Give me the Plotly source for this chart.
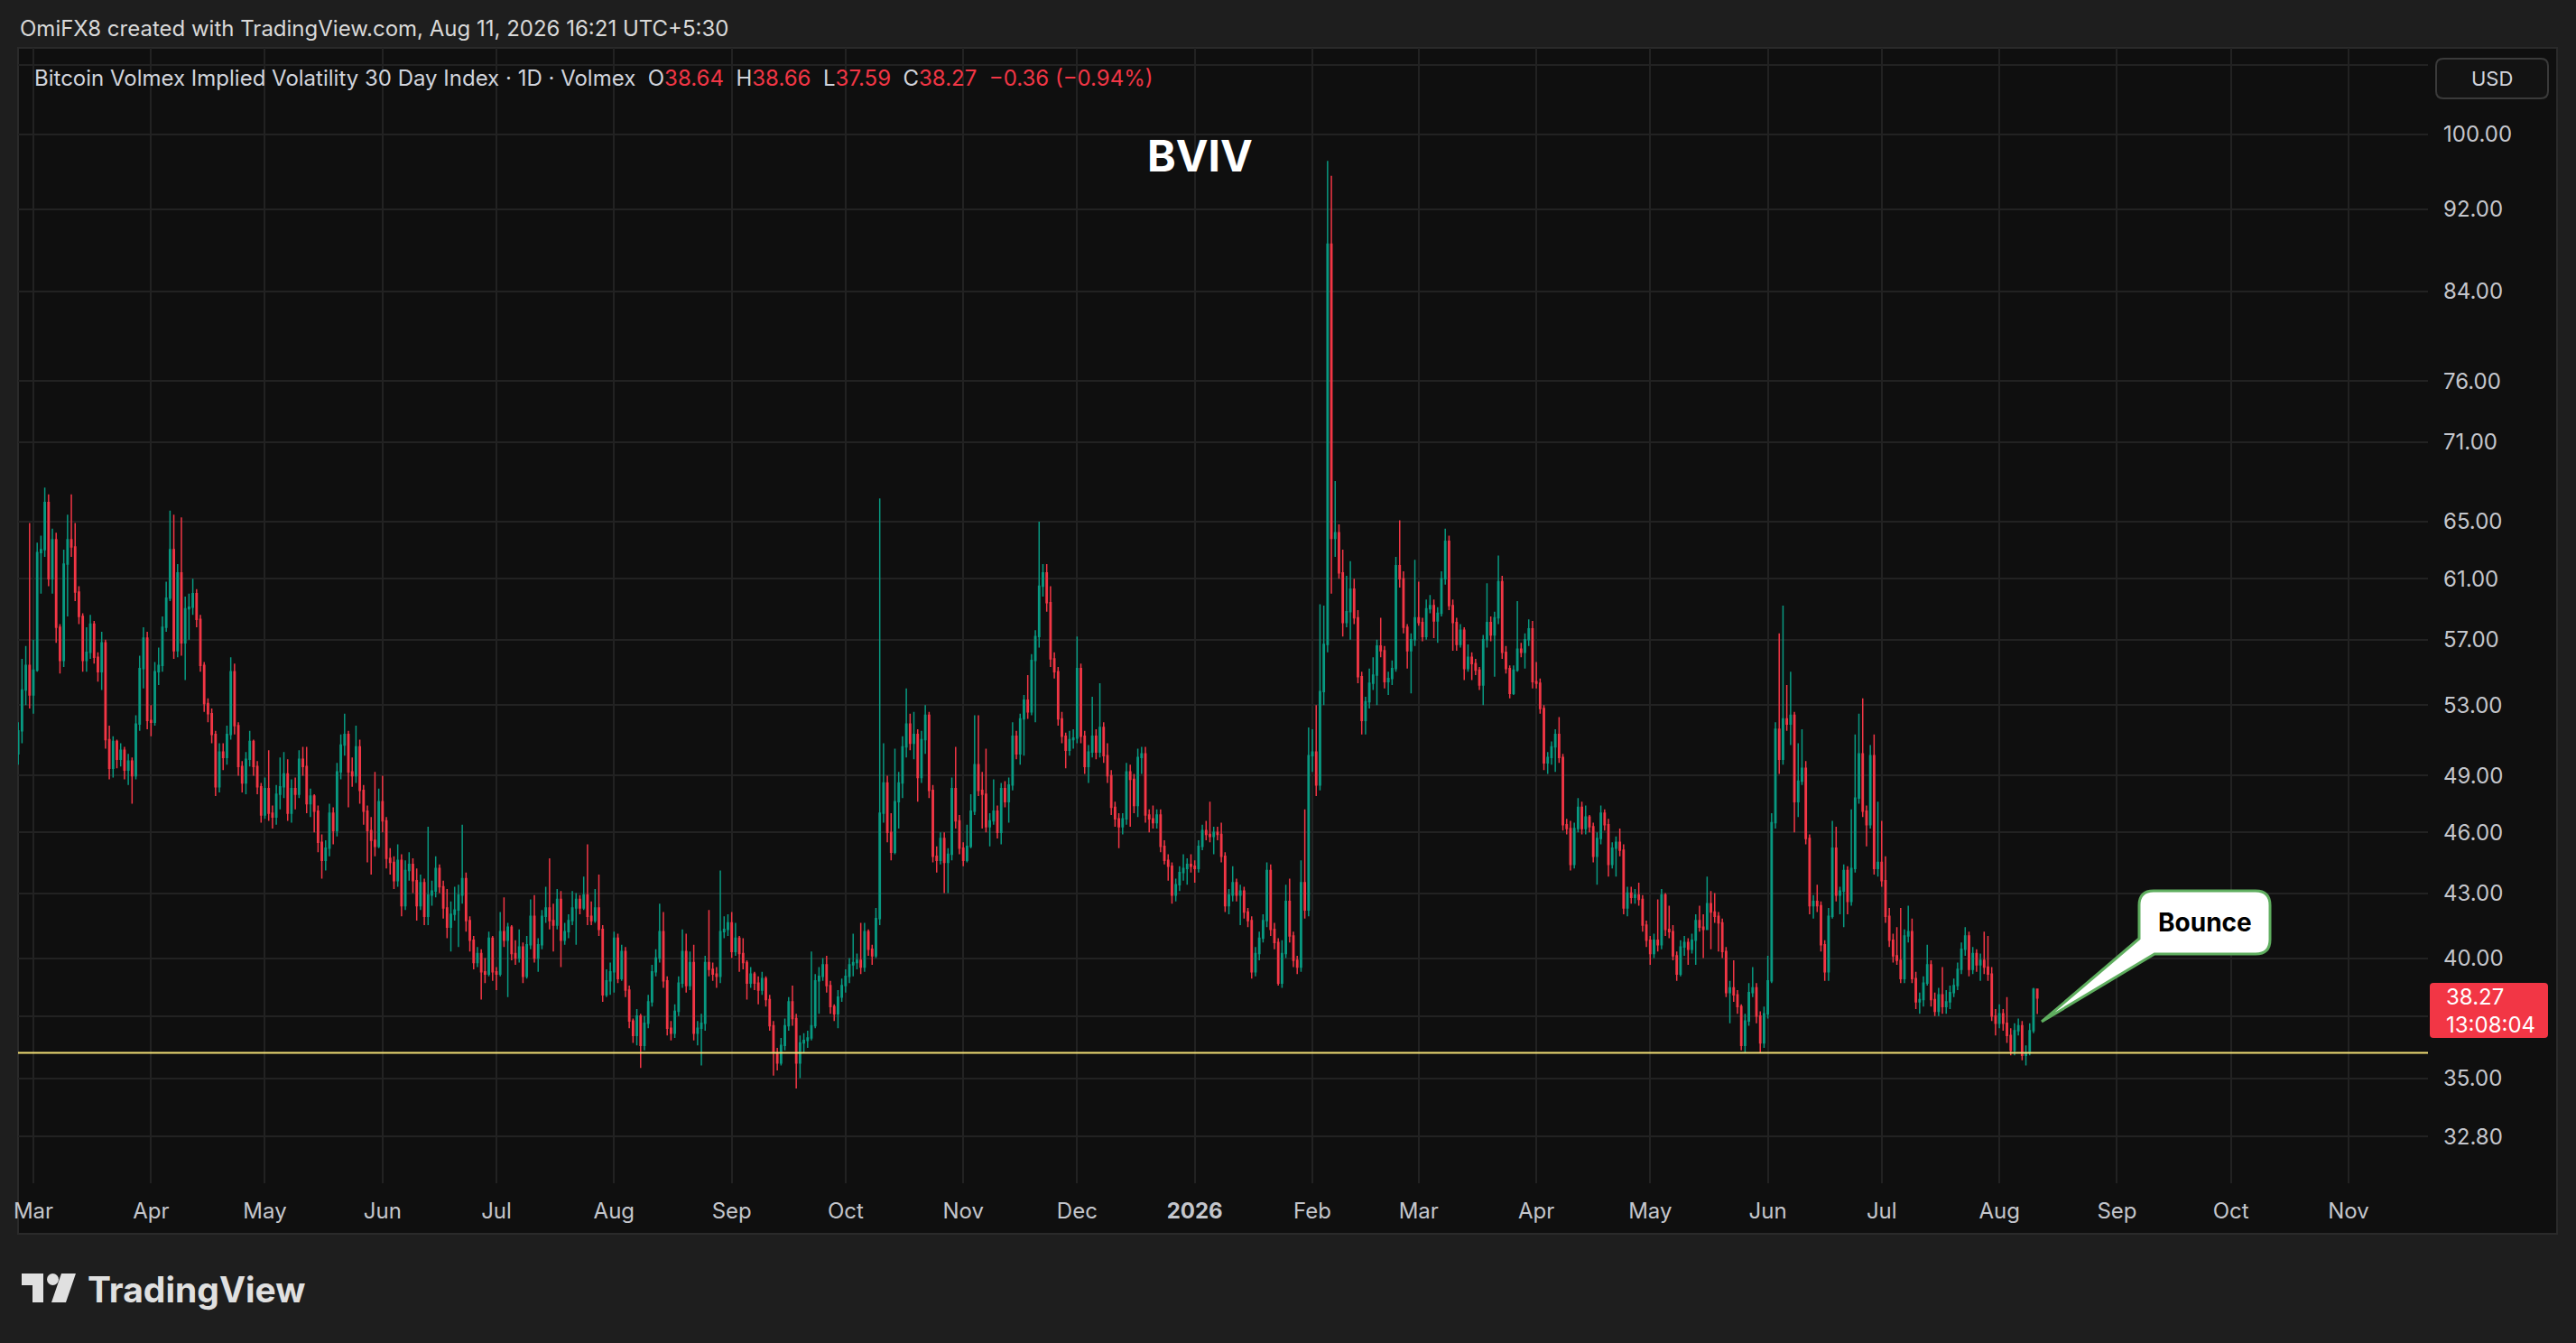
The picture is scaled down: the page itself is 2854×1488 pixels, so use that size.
#%%
import math

import pandas as pd
from plotly import graph_objects as go

#%%
# Daily BVIV candles. One row per month.
# Each day opens where the previous day closed (24/7 index).
month_starts = [
    "2025-02-25", "2025-03-01", "2025-04-01", "2025-05-01", "2025-06-01",
    "2025-07-01", "2025-08-01", "2025-09-01", "2025-10-01", "2025-11-01",
    "2025-12-01", "2026-01-01", "2026-02-01", "2026-03-01", "2026-04-01",
    "2026-05-01", "2026-06-01", "2026-07-01", "2026-08-01",
]

first_open = 50.2

closes = [
    [51.5, 53.9, 55.4, 53.6],
    [55.1, 62.8, 63.0, 66.4, 61.0, 63.7, 57.8, 55.7, 62.0, 63.7, 63.2, 60.1, 58.5, 55.7, 56.2, 58.0, 55.9, 55.0, 56.8, 51.0, 49.4, 50.9, 49.9, 50.4, 49.3, 49.8, 49.0, 51.9, 55.2, 57.1, 52.1],
    [52.0, 55.0, 55.4, 57.8, 59.7, 63.0, 56.3, 61.4, 56.8, 59.0, 59.1, 60.0, 58.3, 55.4, 53.1, 52.5, 51.3, 48.4, 50.3, 50.0, 51.3, 55.0, 51.8, 49.5, 48.6, 49.9, 50.9, 49.5, 48.4, 46.9],
    [48.3, 47.0, 46.8, 48.0, 48.4, 49.1, 47.0, 48.3, 48.0, 49.9, 49.5, 47.5, 47.9, 47.1, 45.5, 44.6, 45.2, 47.0, 46.1, 49.2, 50.7, 51.3, 49.2, 49.0, 50.6, 48.2, 47.1, 46.1, 45.6, 45.3, 47.6],
    [46.6, 44.7, 44.5, 43.6, 44.6, 42.4, 44.1, 44.4, 43.6, 42.4, 43.5, 41.9, 42.9, 43.1, 44.2, 43.3, 42.3, 41.4, 42.0, 42.2, 42.9, 43.7, 41.7, 40.8, 39.8, 40.2, 39.4, 39.3, 40.9, 39.4],
    [39.3, 41.2, 40.8, 41.4, 40.2, 40.0, 40.5, 39.2, 40.6, 41.9, 40.0, 40.6, 41.9, 42.3, 41.7, 41.5, 42.7, 40.8, 41.2, 41.7, 42.3, 42.7, 42.3, 42.9, 41.9, 41.7, 42.3, 41.3, 38.4, 39.0, 39.4],
    [40.9, 39.1, 40.3, 38.6, 37.3, 36.7, 37.5, 36.3, 37.2, 38.1, 39.4, 40.0, 41.2, 39.0, 37.0, 36.8, 37.7, 38.9, 40.3, 38.8, 39.8, 36.8, 37.0, 37.2, 39.8, 39.5, 39.3, 39.2, 41.2, 41.3, 41.6],
    [40.3, 40.9, 40.2, 39.8, 38.9, 39.3, 38.9, 38.6, 39.1, 38.2, 37.1, 36.0, 35.6, 36.3, 37.1, 38.1, 37.4, 35.6, 36.4, 36.5, 36.6, 37.1, 39.0, 39.2, 39.7, 38.8, 37.9, 37.6, 38.3, 38.8],
    [39.2, 39.7, 39.8, 39.9, 39.6, 41.2, 40.4, 40.1, 41.8, 47.0, 48.6, 46.0, 45.0, 47.6, 48.6, 50.6, 51.9, 50.8, 51.3, 48.9, 51.0, 52.4, 48.2, 44.8, 44.6, 45.7, 44.5, 44.9, 48.3, 46.6, 45.2],
    [44.6, 45.3, 47.1, 49.6, 48.2, 48.0, 46.3, 46.6, 47.1, 46.0, 48.3, 47.6, 48.5, 51.2, 50.2, 52.2, 53.3, 52.6, 55.7, 57.2, 60.5, 61.4, 59.4, 55.8, 55.0, 52.2, 51.2, 50.4, 51.0, 51.1],
    [55.2, 51.2, 49.5, 50.3, 51.2, 50.3, 51.7, 50.1, 49.0, 47.3, 46.7, 46.3, 46.7, 49.2, 48.8, 47.4, 50.0, 50.2, 46.9, 46.7, 46.5, 46.9, 45.3, 44.6, 44.3, 42.9, 43.4, 44.0, 44.2, 44.4, 44.3],
    [44.2, 45.3, 46.1, 45.9, 45.8, 46.0, 45.9, 44.8, 42.4, 42.9, 43.5, 42.9, 43.1, 42.1, 41.7, 39.4, 40.2, 40.9, 41.7, 44.1, 41.3, 40.7, 38.9, 40.2, 42.6, 41.0, 39.9, 39.6, 43.5, 42.2, 50.1],
    [50.3, 48.5, 53.8, 56.7, 88.5, 63.8, 64.2, 61.4, 58.1, 58.8, 60.3, 58.4, 54.7, 52.1, 53.2, 54.3, 54.8, 56.6, 56.3, 54.4, 54.6, 55.2, 61.9, 61.0, 57.8, 56.3, 57.0, 58.4],
    [58.1, 57.2, 59.0, 59.2, 58.2, 58.7, 61.0, 63.6, 59.2, 58.1, 56.7, 57.6, 55.2, 55.9, 55.5, 55.1, 54.2, 57.0, 58.1, 57.3, 58.4, 60.8, 56.2, 55.2, 53.7, 55.1, 56.4, 56.2, 57.0, 57.7, 54.4],
    [54.3, 52.8, 49.7, 50.0, 50.6, 51.3, 50.0, 46.4, 46.2, 44.4, 46.2, 47.3, 46.2, 46.8, 46.3, 44.8, 45.7, 47.0, 46.4, 44.4, 45.2, 45.5, 45.1, 42.3, 43.0, 42.8, 42.9, 42.7, 41.5, 40.8],
    [40.2, 40.8, 40.6, 42.9, 41.3, 41.2, 40.1, 39.3, 40.5, 40.7, 40.4, 40.8, 41.7, 41.4, 41.3, 42.5, 42.1, 41.9, 41.6, 40.3, 38.5, 38.7, 38.4, 37.9, 36.3, 37.3, 38.5, 38.7, 37.5, 36.4, 37.6],
    [39.0, 46.5, 51.6, 49.9, 52.2, 51.9, 52.4, 47.6, 48.7, 49.4, 45.7, 42.4, 42.6, 42.4, 40.6, 39.4, 41.9, 45.2, 42.9, 43.1, 44.1, 42.6, 44.2, 47.8, 50.2, 47.1, 46.4, 50.1, 44.2, 44.5],
    [43.6, 41.9, 40.8, 40.1, 39.9, 39.1, 41.0, 41.2, 39.1, 38.1, 38.2, 38.9, 39.7, 38.2, 37.7, 38.4, 37.9, 38.1, 38.5, 38.8, 39.5, 40.4, 41.0, 39.5, 40.2, 39.7, 39.9, 39.6, 39.3, 37.5, 37.2],
    [37.6, 37.2, 36.7, 36.1, 36.9, 37.1, 35.9, 36.0, 36.9, 38.64, 38.27],
]

highs = [
    [52.0, 55.8, 56.6, 64.9],
    [57.0, 63.5, 64.0, 67.5, 67.0, 64.5, 64.2, 58.0, 63.0, 65.5, 67.0, 64.9, 60.5, 58.7, 57.8, 58.6, 58.2, 56.2, 57.5, 57.0, 51.8, 51.2, 51.0, 50.8, 50.6, 50.2, 50.0, 52.4, 56.0, 57.8, 57.5],
    [53.0, 55.6, 56.5, 58.5, 60.8, 65.8, 65.5, 62.0, 65.3, 59.8, 60.0, 61.0, 60.3, 58.6, 55.6, 53.4, 52.8, 51.5, 50.8, 50.8, 51.8, 55.9, 55.5, 52.0, 49.8, 50.3, 51.5, 51.0, 49.8, 48.6],
    [48.9, 50.4, 47.4, 48.5, 50.0, 50.3, 49.9, 48.8, 48.9, 50.4, 50.6, 50.6, 48.3, 48.0, 47.4, 45.9, 45.6, 47.5, 47.3, 49.7, 51.3, 52.5, 51.5, 50.0, 51.8, 51.0, 48.5, 47.4, 46.8, 49.2, 48.3],
    [49.0, 46.8, 45.2, 44.8, 45.4, 44.9, 44.6, 45.0, 44.7, 44.2, 43.9, 43.7, 46.3, 43.6, 44.8, 44.4, 43.6, 43.2, 42.6, 43.3, 43.4, 46.4, 44.0, 41.9, 41.0, 40.5, 40.4, 40.0, 41.2, 41.0],
    [39.6, 42.1, 42.8, 41.6, 41.5, 40.8, 41.3, 40.7, 41.0, 42.7, 42.9, 40.9, 42.2, 43.3, 44.7, 42.5, 43.2, 43.1, 41.6, 42.0, 43.1, 43.0, 42.9, 43.8, 45.4, 42.6, 43.2, 43.9, 41.5, 39.5, 39.8],
    [41.2, 41.1, 40.6, 40.5, 38.8, 37.4, 37.8, 37.6, 37.5, 38.4, 39.7, 40.4, 42.5, 42.1, 39.2, 37.3, 38.0, 39.2, 41.3, 41.1, 40.3, 40.6, 37.3, 37.6, 40.1, 42.2, 39.8, 39.6, 44.1, 41.9, 42.0],
    [42.1, 41.6, 41.0, 40.9, 39.9, 39.6, 39.4, 39.2, 39.4, 39.2, 38.4, 37.3, 36.2, 36.6, 37.4, 38.3, 38.8, 37.6, 36.7, 36.8, 36.9, 40.3, 39.3, 39.6, 40.0, 40.1, 39.0, 38.0, 38.6, 39.1],
    [39.5, 40.0, 41.1, 40.2, 41.6, 41.6, 41.3, 40.6, 42.3, 66.7, 50.8, 49.0, 47.0, 50.5, 49.2, 51.2, 54.0, 52.5, 52.6, 51.6, 51.5, 53.0, 52.6, 48.5, 45.3, 46.0, 46.0, 45.2, 48.9, 50.6, 46.9],
    [45.5, 46.4, 48.0, 52.4, 52.4, 49.2, 50.5, 47.0, 48.8, 47.4, 48.6, 48.7, 48.9, 52.0, 51.5, 52.5, 53.6, 54.8, 56.1, 57.6, 65.0, 62.0, 62.0, 60.5, 56.2, 55.3, 52.6, 51.4, 51.5, 51.6],
    [57.2, 55.5, 51.5, 50.7, 53.5, 51.6, 54.3, 52.0, 50.8, 49.3, 47.6, 47.0, 47.0, 49.7, 49.6, 49.1, 50.5, 50.6, 50.6, 47.2, 47.4, 47.2, 47.2, 45.6, 44.9, 44.5, 43.7, 44.3, 44.9, 44.7, 44.9],
    [44.6, 45.6, 46.4, 46.6, 47.6, 46.3, 46.3, 46.5, 45.0, 43.2, 44.3, 43.7, 43.4, 43.3, 42.3, 41.9, 40.5, 41.2, 42.0, 44.5, 44.4, 41.6, 40.9, 40.8, 43.4, 43.7, 41.2, 40.1, 44.6, 47.2, 51.7],
    [51.6, 53.0, 59.3, 59.2, 97.1, 95.5, 68.0, 64.8, 63.0, 61.2, 62.2, 61.0, 58.9, 55.0, 53.5, 55.2, 55.9, 57.0, 58.4, 56.6, 55.0, 55.7, 62.5, 65.1, 61.5, 58.0, 57.4, 62.3],
    [60.8, 58.4, 59.6, 59.9, 59.6, 59.1, 61.5, 64.5, 64.0, 59.6, 58.4, 58.0, 57.8, 56.7, 56.2, 55.8, 55.3, 57.3, 60.7, 58.5, 58.8, 62.6, 61.2, 56.6, 55.4, 55.4, 59.5, 56.8, 57.4, 58.3, 58.2],
    [55.6, 54.6, 53.0, 50.3, 50.9, 51.6, 52.3, 50.2, 46.7, 46.6, 46.5, 47.8, 47.6, 47.4, 46.9, 46.5, 46.0, 47.4, 47.2, 46.7, 45.5, 45.8, 46.2, 45.4, 43.3, 43.3, 43.2, 43.5, 42.9, 41.7],
    [41.0, 41.1, 42.7, 43.2, 43.0, 42.4, 41.5, 40.3, 40.8, 41.0, 40.9, 41.1, 42.0, 42.4, 42.0, 43.8, 43.1, 43.0, 42.1, 41.8, 40.5, 39.0, 39.9, 38.6, 38.0, 37.6, 38.9, 39.6, 38.9, 37.7, 37.9],
    [40.1, 47.0, 52.0, 57.4, 59.2, 54.2, 55.0, 52.6, 50.8, 51.6, 49.8, 45.9, 42.9, 43.4, 42.6, 40.8, 42.3, 46.6, 46.3, 43.3, 44.4, 44.3, 47.2, 51.3, 52.5, 53.4, 47.4, 50.7, 51.3, 47.6],
    [46.6, 44.8, 42.3, 41.1, 41.4, 42.3, 41.3, 42.4, 41.8, 39.4, 38.5, 39.2, 40.6, 39.9, 38.5, 38.7, 39.6, 38.6, 38.8, 39.1, 39.8, 40.7, 41.4, 41.2, 40.5, 40.4, 40.2, 41.2, 41.0, 39.6, 37.8],
    [38.0, 37.8, 38.3, 37.0, 37.2, 37.4, 37.3, 36.3, 37.2, 38.7, 38.66],
]

lows = [
    [49.6, 50.8, 53.0, 52.8],
    [52.5, 55.0, 60.0, 62.5, 60.5, 60.0, 56.8, 54.9, 55.3, 58.5, 62.5, 59.5, 58.0, 55.0, 55.0, 55.8, 55.5, 54.4, 53.9, 50.5, 48.8, 48.9, 49.4, 49.5, 48.8, 48.5, 47.5, 48.8, 51.5, 54.0, 51.6],
    [51.2, 51.8, 54.2, 55.0, 57.5, 59.5, 55.8, 55.9, 56.0, 54.5, 57.0, 58.6, 57.8, 55.0, 52.6, 52.0, 50.8, 47.9, 48.1, 49.3, 49.6, 51.0, 51.3, 49.0, 48.1, 48.0, 49.5, 49.0, 48.0, 46.5],
    [46.7, 46.6, 46.2, 46.4, 47.2, 47.8, 46.6, 46.5, 47.2, 47.8, 49.0, 47.0, 46.8, 46.0, 45.0, 43.7, 44.1, 44.8, 45.4, 45.8, 48.8, 50.1, 47.3, 48.4, 48.6, 47.5, 46.4, 44.5, 43.9, 44.8, 45.2],
    [46.0, 44.2, 43.9, 43.2, 43.3, 41.9, 42.2, 43.6, 43.0, 41.7, 42.2, 41.5, 41.5, 42.4, 42.8, 43.0, 41.8, 40.9, 40.3, 41.7, 40.5, 42.5, 41.2, 40.3, 39.5, 39.6, 38.2, 38.9, 39.2, 39.0],
    [38.6, 39.2, 40.5, 38.3, 39.9, 39.7, 39.8, 38.9, 39.1, 40.4, 39.8, 39.4, 40.4, 41.6, 41.3, 40.3, 41.3, 39.6, 40.6, 40.9, 41.5, 40.6, 42.0, 42.2, 41.5, 41.5, 41.6, 41.0, 38.1, 38.3, 38.4],
    [38.5, 38.9, 39.0, 38.3, 37.0, 36.4, 36.3, 35.4, 36.1, 37.0, 37.9, 39.2, 39.8, 38.7, 36.7, 36.5, 36.6, 37.5, 38.7, 38.5, 38.6, 36.5, 36.3, 35.5, 36.9, 39.2, 39.0, 38.7, 38.9, 40.9, 41.0],
    [40.0, 40.1, 39.4, 39.5, 38.2, 38.7, 38.6, 38.0, 38.4, 37.9, 36.9, 35.1, 35.3, 35.5, 36.1, 36.9, 37.1, 34.6, 35.0, 36.0, 36.2, 36.5, 37.0, 37.6, 39.0, 38.5, 37.6, 37.3, 37.0, 38.1],
    [38.5, 38.9, 39.2, 39.5, 39.3, 39.4, 40.1, 39.7, 40.0, 41.5, 46.5, 45.5, 44.6, 44.9, 46.2, 47.8, 50.0, 50.4, 49.9, 47.6, 48.6, 50.2, 47.8, 44.5, 44.0, 44.4, 43.0, 43.0, 44.6, 46.2, 44.9],
    [44.3, 44.5, 45.2, 46.9, 47.9, 46.2, 46.0, 45.3, 46.4, 45.7, 45.4, 47.3, 46.5, 48.2, 49.9, 49.6, 50.1, 52.2, 52.4, 52.0, 56.5, 59.8, 58.8, 55.3, 54.6, 51.8, 50.8, 49.4, 50.1, 50.5],
    [50.8, 50.8, 49.1, 48.6, 50.0, 49.9, 50.0, 49.7, 48.6, 46.9, 46.3, 45.2, 45.9, 46.4, 46.3, 47.0, 46.8, 49.1, 46.5, 46.0, 46.2, 46.2, 45.0, 44.4, 43.6, 42.5, 42.6, 43.1, 43.6, 43.4, 44.0],
    [43.5, 44.0, 45.1, 45.6, 45.5, 44.9, 45.6, 44.5, 42.1, 42.0, 42.6, 42.6, 41.5, 41.8, 41.4, 39.1, 39.2, 39.9, 40.7, 41.4, 41.0, 40.4, 38.8, 38.7, 40.0, 40.7, 39.6, 39.3, 39.4, 41.8, 41.9],
    [49.2, 47.9, 48.2, 53.0, 56.2, 60.0, 62.5, 61.0, 57.2, 57.8, 57.0, 58.0, 54.3, 51.3, 51.3, 52.8, 53.9, 53.0, 55.9, 54.0, 53.6, 54.2, 55.0, 60.4, 57.4, 55.2, 53.7, 56.6],
    [57.9, 56.9, 57.0, 58.7, 57.1, 56.8, 58.5, 60.6, 58.9, 56.3, 56.3, 56.5, 54.5, 55.0, 54.5, 54.8, 53.9, 53.0, 56.5, 56.9, 54.7, 58.0, 55.8, 54.9, 53.4, 53.6, 55.0, 55.9, 55.2, 56.6, 54.0],
    [54.0, 52.5, 49.3, 49.1, 49.6, 49.2, 49.7, 46.1, 45.9, 44.1, 44.2, 46.0, 45.9, 45.9, 46.0, 44.5, 43.4, 45.4, 46.1, 43.8, 44.2, 43.8, 44.8, 42.0, 41.9, 42.5, 42.5, 42.4, 41.2, 40.5],
    [39.7, 40.0, 40.3, 40.4, 41.0, 40.9, 39.9, 39.0, 39.2, 40.1, 39.7, 40.2, 39.7, 41.2, 40.0, 41.3, 40.4, 41.6, 40.3, 40.0, 38.3, 37.2, 38.1, 37.6, 36.1, 36.0, 37.1, 38.3, 37.2, 36.0, 36.2],
    [37.4, 38.9, 46.2, 49.1, 49.6, 51.5, 50.7, 46.0, 46.8, 48.5, 45.4, 42.0, 41.8, 42.1, 40.3, 39.0, 39.0, 41.8, 42.6, 42.0, 41.4, 42.0, 42.4, 44.0, 47.5, 46.8, 45.3, 46.2, 43.9, 43.8],
    [43.3, 41.6, 40.5, 39.8, 39.7, 38.9, 38.9, 40.7, 38.9, 37.8, 37.6, 37.9, 38.8, 37.9, 37.5, 37.5, 37.6, 37.6, 37.8, 38.3, 38.6, 39.3, 40.1, 39.2, 39.3, 39.4, 39.0, 39.3, 39.0, 37.3, 36.7],
    [37.0, 36.9, 36.4, 35.9, 35.9, 36.7, 35.7, 35.5, 35.9, 36.8, 37.59],
]

support_level = 36.0

price_ticks = [32.8, 35, 37.5, 40, 43, 46, 49, 53, 57, 61, 65, 71, 76, 84, 92, 100, 108]
hidden_price_ticks = [37.5, 108]  # covered by the price label and the USD button

month_ticks = pd.date_range("2025-03-01", "2026-11-01", freq="MS")
month_labels = [("<b>2026</b>" if d.month == 1 else d.strftime("%b")) for d in month_ticks]

#%%
dates, c_all, h_all, l_all = [], [], [], []
for start, c, h, l in zip(month_starts, closes, highs, lows):
    assert len(c) == len(h) == len(l), start
    dates += list(pd.date_range(start, periods=len(c), freq="D"))
    c_all += c
    h_all += h
    l_all += l

opens = [first_open] + c_all[:-1]
h_all = [max(h, o, c) for h, o, c in zip(h_all, opens, c_all)]
l_all = [min(l, o, c) for l, o, c in zip(l_all, opens, c_all)]

#%%
W, H = 2854, 1488
X0, X1, Y0, Y1 = 20, 2690, 53, 1311  # plot area in pixels


def px(x):
    return (x - X0) / (X1 - X0)


def py(y):
    return (Y1 - y) / (Y1 - Y0)


def pt(x, y):
    return f"{px(x):.5f},{py(y):.5f}"


def rounded(x0, y0, x1, y1, r):
    return (f"M {pt(x0 + r, y0)} L {pt(x1 - r, y0)} Q {pt(x1, y0)} {pt(x1, y0 + r)} "
            f"L {pt(x1, y1 - r)} Q {pt(x1, y1)} {pt(x1 - r, y1)} "
            f"L {pt(x0 + r, y1)} Q {pt(x0, y1)} {pt(x0, y1 - r)} "
            f"L {pt(x0, y0 + r)} Q {pt(x0, y0)} {pt(x0 + r, y0)} Z")


GREEN = "#089981"
RED = "#f23645"
GRID = "#222222"
TEXT = "#d1d4dc"
AXIS_TEXT = "#c4c6cc"
OUTER = "#1e1e1e"
FONT = "Inter, Roboto, sans-serif"

x_start = pd.Timestamp("2025-02-24 23:00")
x_end = pd.Timestamp("2026-11-21 22:30")

fig = go.Figure()

fig.add_trace(
    go.Candlestick(
        x=dates,
        open=opens,
        high=h_all,
        low=l_all,
        close=c_all,
        increasing=dict(line=dict(color=GREEN, width=1.5), fillcolor=GREEN),
        decreasing=dict(line=dict(color=RED, width=1.5), fillcolor=RED),
        whiskerwidth=0,
        hoverinfo="skip",
    )
)

fig.add_trace(
    go.Scatter(
        x=[x_start, x_end],
        y=[support_level, support_level],
        mode="lines",
        line=dict(color="#f0dd75", width=2),
        hoverinfo="skip",
    )
)

#%%
shapes = [
    # chart pane
    dict(type="rect", xref="paper", yref="paper", x0=px(20), x1=px(2833), y0=py(1367), y1=py(53),
         fillcolor="#0f0f0f", line=dict(color="#2a2a2a", width=2), layer="below"),
    # USD button
    dict(type="path", xref="paper", yref="paper", path=rounded(2699, 65, 2823, 109, 8),
         fillcolor="#131313", line=dict(color="#3a3a3a", width=2)),
    # last price label
    dict(type="path", xref="paper", yref="paper", path=rounded(2692, 1089, 2823, 1150, 4),
         fillcolor=RED, line=dict(width=0)),
    # "Bounce" callout with its tail
    dict(type="path", xref="paper", yref="paper",
         path=(f"M {pt(2370, 1003)} L {pt(2370, 1040)} L {pt(2262, 1132)} L {pt(2387, 1057)} "
               f"L {pt(2499, 1057)} Q {pt(2515, 1057)} {pt(2515, 1041)} L {pt(2515, 1003)} "
               f"Q {pt(2515, 987)} {pt(2499, 987)} L {pt(2386, 987)} Q {pt(2370, 987)} {pt(2370, 1003)} Z"),
         fillcolor="#ffffff", line=dict(color="#5fae5f", width=3)),
    # TradingView logo mark
    dict(type="rect", xref="paper", yref="paper", x0=px(24), x1=px(48), y0=py(1424), y1=py(1411),
         fillcolor="#e0e0e0", line=dict(width=0)),
    dict(type="rect", xref="paper", yref="paper", x0=px(36), x1=px(48), y0=py(1443), y1=py(1411),
         fillcolor="#e0e0e0", line=dict(width=0)),
    dict(type="circle", xref="paper", yref="paper", x0=px(52), x1=px(65), y0=py(1424), y1=py(1411),
         fillcolor="#e0e0e0", line=dict(width=0)),
    dict(type="path", xref="paper", yref="paper",
         path=f"M {pt(68, 1411)} L {pt(84, 1411)} L {pt(73, 1443)} L {pt(57, 1443)} Z",
         fillcolor="#e0e0e0", line=dict(width=0)),
]

red_span = f"<span style='color:{RED}'>"
legend_text = (
    "Bitcoin Volmex Implied Volatility 30 Day Index · 1D · Volmex\u00a0\u00a0"
    f"O{red_span}38.64</span>\u00a0\u00a0H{red_span}38.66</span>\u00a0\u00a0"
    f"L{red_span}37.59</span>\u00a0\u00a0C{red_span}38.27</span>\u00a0\u00a0"
    f"{red_span}\u22120.36 (\u22120.94%)</span>"
)

annotations = [
    dict(text="OmiFX8 created with TradingView.com, Aug 11, 2026 16:21 UTC+5:30",
         x=px(20), y=py(31), xanchor="left", yanchor="middle",
         font=dict(size=24, color="#d9d9d9")),
    dict(text=legend_text, x=px(36), y=py(86), xanchor="left", yanchor="middle",
         font=dict(size=24, color=TEXT)),
    dict(text="<b>BVIV</b>", x=px(1329), y=py(172), xanchor="center", yanchor="middle",
         font=dict(size=48, color="#ffffff")),
    dict(text="USD", x=px(2761), y=py(87), xanchor="center", yanchor="middle",
         font=dict(size=22, color=TEXT)),
    dict(text="38.27<br>13:08:04", x=px(2708), y=py(1120), xanchor="left", yanchor="middle",
         align="left", font=dict(size=24, color="#ffffff")),
    dict(text="<b>Bounce</b>", x=px(2443), y=py(1022), xanchor="center", yanchor="middle",
         font=dict(size=28, color="#000000")),
    dict(text="<b>TradingView</b>", x=px(95), y=py(1428), xanchor="left", yanchor="middle",
         font=dict(size=39, color="#e0e0e0")),
]
for a in annotations:
    a.update(xref="paper", yref="paper", showarrow=False)

fig.update_layout(
    width=W,
    height=H,
    autosize=False,
    margin=dict(l=X0, r=W - X1, t=Y0, b=H - Y1, pad=0),
    paper_bgcolor=OUTER,
    plot_bgcolor="rgba(0,0,0,0)",
    font=dict(family=FONT, color=TEXT),
    showlegend=False,
    hovermode=False,
    boxgap=0.55,
    shapes=shapes,
    annotations=annotations,
    xaxis=dict(
        type="date",
        range=[x_start, x_end],
        tickvals=list(month_ticks),
        ticktext=month_labels,
        showgrid=True,
        gridcolor=GRID,
        gridwidth=2,
        ticks="",
        showline=False,
        zeroline=False,
        tickfont=dict(size=24, color=AXIS_TEXT),
        ticklabelstandoff=14,
        rangeslider=dict(visible=False),
        fixedrange=True,
    ),
    yaxis=dict(
        type="log",
        side="right",
        range=[math.log10(31.14), math.log10(110.1)],
        tickvals=price_ticks,
        ticktext=["" if v in hidden_price_ticks else f"{v:.2f}" for v in price_ticks],
        showgrid=True,
        gridcolor=GRID,
        gridwidth=2,
        ticks="",
        showline=False,
        zeroline=False,
        tickfont=dict(size=24, color=AXIS_TEXT),
        ticklabelstandoff=16,
        fixedrange=True,
    ),
)

# the page body has a default 8px margin; drop it so the figure fills the window
fig.write_html(
    "out.html",
    config={"displayModeBar": False},
    post_script=f"document.body.style.margin='0';document.body.style.background='{OUTER}';"
                "document.body.style.overflow='hidden';",
)
